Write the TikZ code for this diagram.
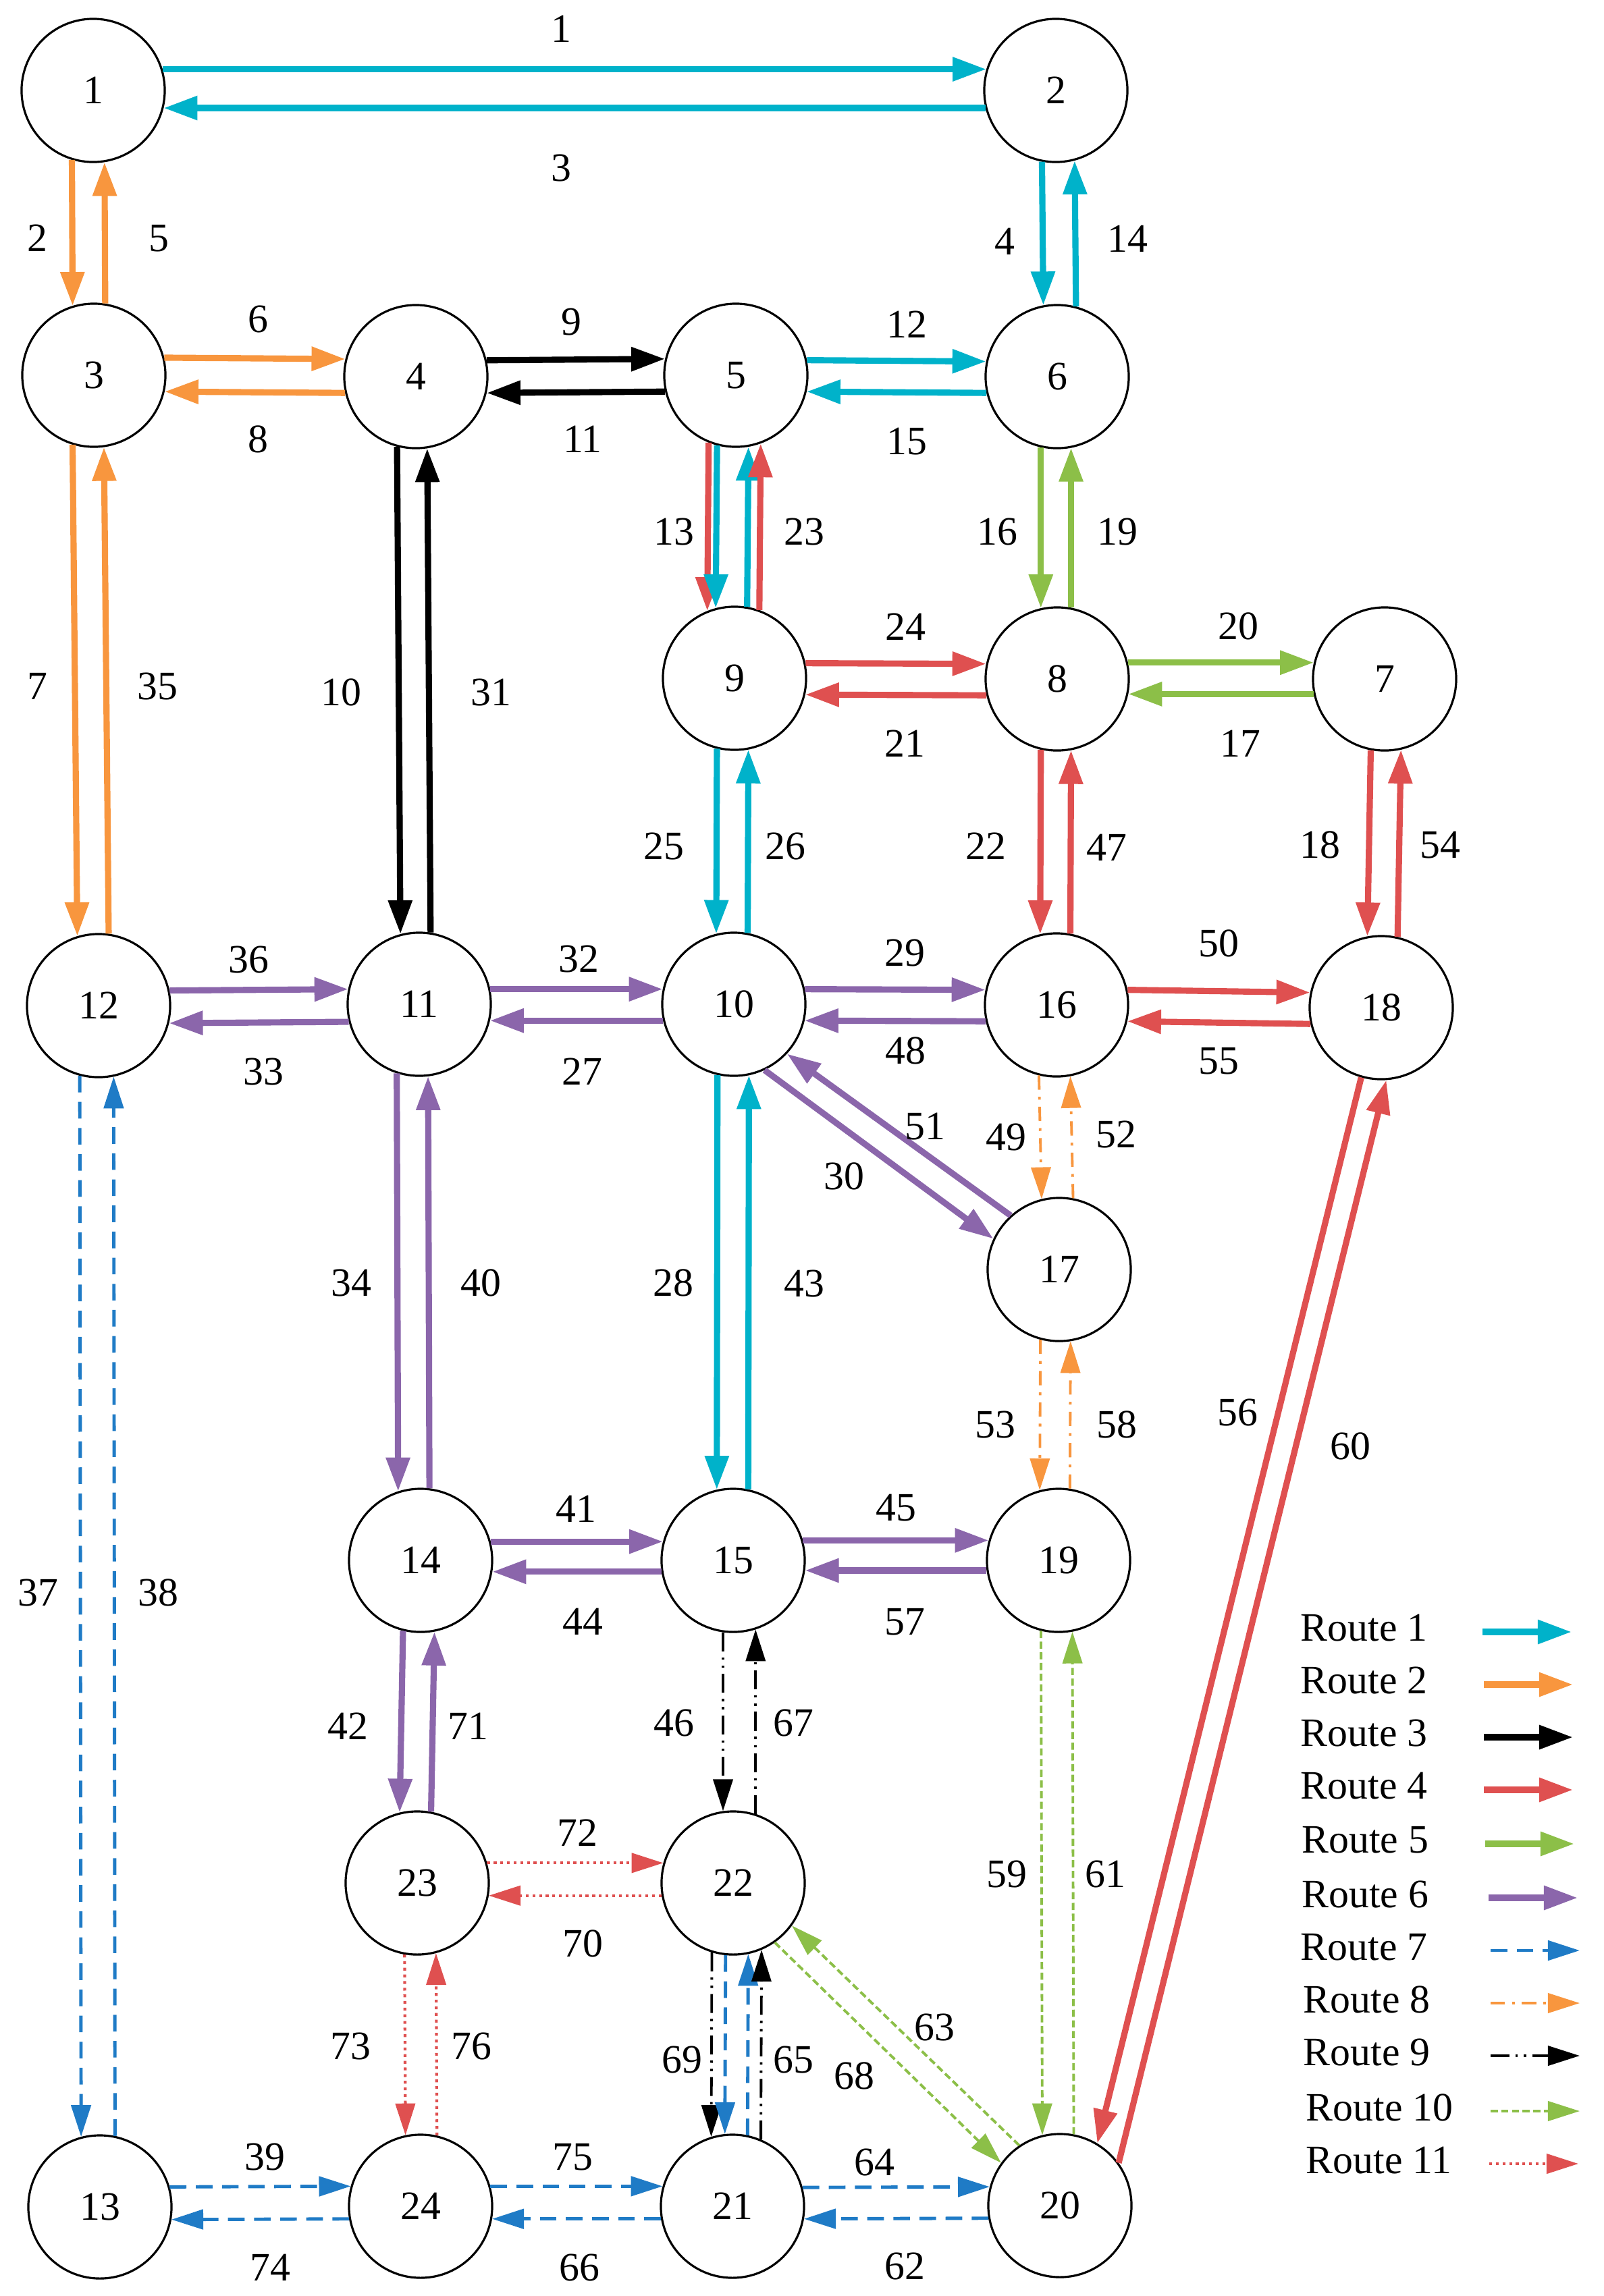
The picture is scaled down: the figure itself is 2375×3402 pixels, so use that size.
\documentclass[tikz,border=0pt]{standalone}
\usepackage{fontspec}
\setmainfont{Liberation Serif}
\usetikzlibrary{arrows.meta}
\definecolor{cA}{HTML}{00B2CA}
\definecolor{cB}{HTML}{F8963E}
\definecolor{cD}{HTML}{DF5050}
\definecolor{cE}{HTML}{8CBF48}
\definecolor{cF}{HTML}{8B66AB}
\definecolor{cG}{HTML}{1F7BC6}
\newcommand\lblfont{\fontsize{17pt}{20pt}\selectfont}
\begin{document}
\begin{tikzpicture}[x=0.01cm,y=-0.01cm,
  nd/.style={circle,draw,line width=0.9pt,minimum size=2.12cm,inner sep=0pt,font=\lblfont},
  lb/.style={inner sep=0pt,font=\lblfont},
  solidr/.style={line width=2.6pt,-{Triangle[length=0.5cm,width=0.34cm]}},
  dashr/.style={line width=1.1pt,-{Triangle[length=0.47cm,width=0.29cm]}},
  r1/.style={solidr,color=cA},
  r2/.style={solidr,color=cB},
  r3/.style={solidr,color=black},
  r4/.style={solidr,color=cD},
  r5/.style={solidr,color=cE},
  r6/.style={solidr,color=cF},
  r7/.style={dashr,color=cG,line width=1.4pt,dash pattern=on 7pt off 4pt},
  r8/.style={dashr,color=cB,dash pattern=on 6pt off 3pt on 1.2pt off 3pt},
  r9/.style={dashr,color=black,dash pattern=on 8pt off 2.5pt on 1pt off 2.5pt on 1pt off 2.5pt},
  r10/.style={dashr,color=cE,dash pattern=on 3pt off 1.5pt},
  r11/.style={dashr,color=cD,line width=1.2pt,dash pattern=on 1.2pt off 1.6pt}]
\useasboundingbox (0,0) rectangle (2375,3402);
\fill[white] (0,0) rectangle (2375,3402);
% nodes
\node[nd] (n1) at (138,134) {1};
\node[nd] (n2) at (1564,134) {2};
\node[nd] (n3) at (139,556) {3};
\node[nd] (n4) at (616,558) {4};
\node[nd] (n5) at (1090,556) {5};
\node[nd] (n6) at (1566,558) {6};
\node[nd] (n9) at (1088,1005) {9};
\node[nd] (n8) at (1566,1006) {8};
\node[nd] (n7) at (2051,1006) {7};
\node[nd] (n12) at (146,1490) {12};
\node[nd] (n11) at (621,1488) {11};
\node[nd] (n10) at (1087,1488) {10};
\node[nd] (n16) at (1565,1489) {16};
\node[nd] (n18) at (2046,1493) {18};
\node[nd] (n17) at (1569,1881) {17};
\node[nd] (n14) at (623,2312) {14};
\node[nd] (n15) at (1086,2312) {15};
\node[nd] (n19) at (1568,2312) {19};
\node[nd] (n23) at (618,2790) {23};
\node[nd] (n22) at (1086,2790) {22};
\node[nd] (n13) at (148,3270) {13};
\node[nd] (n24) at (623,3269) {24};
\node[nd] (n21) at (1085,3269) {21};
\node[nd] (n20) at (1570,3268) {20};
% horizontal pairs
\draw[r1] (n1.17) -- (n2.163);
\draw[r1] (n2.194) -- (n1.346);
\draw[r2] (n3.14) -- (n4.166);
\draw[r2] (n4.193) -- (n3.347);
\draw[r3] (n4.13) -- (n5.167);
\draw[r3] (n5.193) -- (n4.347);
\draw[r1] (n5.12) -- (n6.168);
\draw[r1] (n6.193) -- (n5.347);
\draw[r4] (n9.12) -- (n8.168);
\draw[r4] (n8.193) -- (n9.347);
\draw[r5] (n8.13) -- (n7.167);
\draw[r5] (n7.192) -- (n8.348);
\draw[r6] (n12.12) -- (n11.168);
\draw[r6] (n11.194) -- (n12.346);
\draw[r6] (n11.12) -- (n10.168);
\draw[r6] (n10.193) -- (n11.347);
\draw[r6] (n10.12) -- (n16.168);
\draw[r6] (n16.193) -- (n10.347);
\draw[r4] (n16.12) -- (n18.168);
\draw[r4] (n18.193) -- (n16.347);
\draw[r6] (n14.15) -- (n15.165);
\draw[r6] (n15.189) -- (n14.351);
\draw[r6] (n15.16) -- (n19.164);
\draw[r6] (n19.188) -- (n15.352);
\draw[r11] (n23.16) -- (n22.164);
\draw[r11] (n22.190) -- (n23.350);
\draw[r7] (n13.16) -- (n24.164);
\draw[r7] (n24.190) -- (n13.350);
\draw[r7] (n24.16) -- (n21.164);
\draw[r7] (n21.190) -- (n24.350);
\draw[r7] (n21.15) -- (n20.165);
\draw[r7] (n20.190) -- (n21.350);
% vertical pairs
\draw[r2] (n1.253) -- (n3.107);
\draw[r2] (n3.81) -- (n1.279);
\draw[r1] (n2.259) -- (n6.101);
\draw[r1] (n6.75) -- (n2.285);
\draw[r2] (n3.253) -- (n12.107);
\draw[r2] (n12.82) -- (n3.278);
\draw[r3] (n4.255) -- (n11.105);
\draw[r3] (n11.81) -- (n4.279);
\draw[r4] (n5.248) -- (n9.112);
\draw[r1] (n5.255) -- (n9.105);
\draw[r1] (n9.80) -- (n5.280);
\draw[r4] (n9.70) -- (n5.290);
\draw[r5] (n6.257) -- (n8.103);
\draw[r5] (n8.79) -- (n6.281);
\draw[r1] (n9.256) -- (n10.104);
\draw[r1] (n10.79) -- (n9.281);
\draw[r4] (n8.257) -- (n16.103);
\draw[r4] (n16.79) -- (n8.281);
\draw[r4] (n7.259) -- (n18.101);
\draw[r4] (n18.77) -- (n7.283);
\draw[r7] (n12.255) -- (n13.105);
\draw[r7] (n13.78) -- (n12.282);
\draw[r6] (n11.252) -- (n14.108);
\draw[r6] (n14.83) -- (n11.277);
\draw[r1] (n10.257) -- (n15.103);
\draw[r1] (n15.78) -- (n10.282);
\draw[r8] (n16.256) -- (n17.104);
\draw[r8] (n17.79) -- (n16.281);
\draw[r8] (n17.255) -- (n19.105);
\draw[r8] (n19.81) -- (n17.279);
\draw[r6] (n14.256) -- (n23.104);
\draw[r6] (n23.79) -- (n14.281);
\draw[r9] (n15.262) -- (n22.98);
\draw[r9] (n22.72) -- (n15.288);
\draw[r10] (n19.256) -- (n20.104);
\draw[r10] (n20.79) -- (n19.281);
\draw[r11] (n23.260) -- (n24.102);
\draw[r11] (n24.77) -- (n23.285);
\draw[r9] (n22.253) -- (n21.107);
\draw[r7] (n22.264) -- (n21.96);
\draw[r7] (n21.78) -- (n22.282);
\draw[r9] (n21.67) -- (n22.293);
% diagonals
\draw[r6] (n10.295) -- (n17.155);
\draw[r6] (n17.132) -- (n10.317);
\draw[r4] (n18.254) -- (n20.59);
\draw[r4] (n20.36) -- (n18.274);
\draw[r10] (n22.305) -- (n20.144);
\draw[r10] (n20.124) -- (n22.324);
% edge labels
\node[lb] (e1) at (831,43) {1};
\node[lb] (e3) at (831,249) {3};
\node[lb] (e2) at (55,353) {2};
\node[lb] (e5) at (235,353) {5};
\node[lb] (e4) at (1488,358) {4};
\node[lb] (e14) at (1670,354) {14};
\node[lb] (e6) at (382,473) {6};
\node[lb] (e8) at (382,651) {8};
\node[lb] (e9) at (846,477) {9};
\node[lb] (e11) at (863,651) {11};
\node[lb] (e12) at (1343,481) {12};
\node[lb] (e15) at (1343,654) {15};
\node[lb] (e13) at (998,788) {13};
\node[lb] (e23) at (1191,788) {23};
\node[lb] (e16) at (1477,788) {16};
\node[lb] (e19) at (1655,788) {19};
\node[lb] (e24) at (1341,929) {24};
\node[lb] (e21) at (1340,1102) {21};
\node[lb] (e20) at (1834,928) {20};
\node[lb] (e17) at (1837,1102) {17};
\node[lb] (e7) at (55,1017) {7};
\node[lb] (e35) at (233,1017) {35};
\node[lb] (e10) at (505,1026) {10};
\node[lb] (e31) at (727,1026) {31};
\node[lb] (e25) at (983,1254) {25};
\node[lb] (e26) at (1163,1254) {26};
\node[lb] (e22) at (1460,1254) {22};
\node[lb] (e47) at (1639,1256) {47};
\node[lb] (e18) at (1955,1252) {18};
\node[lb] (e54) at (2133,1252) {54};
\node[lb] (e36) at (368,1422) {36};
\node[lb] (e33) at (390,1588) {33};
\node[lb] (e32) at (857,1421) {32};
\node[lb] (e27) at (862,1588) {27};
\node[lb] (e29) at (1340,1412) {29};
\node[lb] (e48) at (1341,1557) {48};
\node[lb] (e50) at (1805,1398) {50};
\node[lb] (e55) at (1805,1572) {55};
\node[lb] (e49) at (1490,1685) {49};
\node[lb] (e52) at (1653,1681) {52};
\node[lb] (e51) at (1370,1669) {51};
\node[lb] (e30) at (1250,1743) {30};
\node[lb] (e34) at (520,1901) {34};
\node[lb] (e40) at (712,1901) {40};
\node[lb] (e28) at (997,1901) {28};
\node[lb] (e43) at (1191,1902) {43};
\node[lb] (e56) at (1833,2093) {56};
\node[lb] (e60) at (2000,2143) {60};
\node[lb] (e53) at (1474,2111) {53};
\node[lb] (e58) at (1654,2111) {58};
\node[lb] (e41) at (853,2236) {41};
\node[lb] (e44) at (863,2403) {44};
\node[lb] (e45) at (1327,2234) {45};
\node[lb] (e57) at (1340,2403) {57};
\node[lb] (e37) at (56,2360) {37};
\node[lb] (e38) at (234,2360) {38};
\node[lb] (e42) at (515,2558) {42};
\node[lb] (e71) at (693,2558) {71};
\node[lb] (e46) at (998,2553) {46};
\node[lb] (e67) at (1175,2553) {67};
\node[lb] (e72) at (855,2716) {72};
\node[lb] (e70) at (863,2880) {70};
\node[lb] (e59) at (1491,2777) {59};
\node[lb] (e61) at (1637,2777) {61};
\node[lb] (e73) at (519,3032) {73};
\node[lb] (e76) at (698,3032) {76};
\node[lb] (e69) at (1010,3052) {69};
\node[lb] (e65) at (1175,3052) {65};
\node[lb] (e63) at (1384,3004) {63};
\node[lb] (e68) at (1265,3076) {68};
\node[lb] (e39) at (392,3196) {39};
\node[lb] (e75) at (848,3196) {75};
\node[lb] (e64) at (1295,3204) {64};
\node[lb] (e74) at (400,3360) {74};
\node[lb] (e66) at (858,3360) {66};
\node[lb] (e62) at (1340,3358) {62};
% legend
\node[lb,anchor=west] (t1) at (1926,2412) {Route 1};
\node[lb,anchor=west] (t2) at (1926,2490) {Route 2};
\node[lb,anchor=west] (t3) at (1926,2568) {Route 3};
\node[lb,anchor=west] (t4) at (1926,2646) {Route 4};
\node[lb,anchor=west] (t5) at (1928,2726) {Route 5};
\node[lb,anchor=west] (t6) at (1928,2807) {Route 6};
\node[lb,anchor=west] (t7) at (1926,2885) {Route 7};
\node[lb,anchor=west] (t8) at (1930,2963) {Route 8};
\node[lb,anchor=west] (t9) at (1930,3041) {Route 9};
\node[lb,anchor=west] (t10) at (1934,3123) {Route 10};
\node[lb,anchor=west] (t11) at (1934,3201) {Route 11};
\coordinate (a1) at (2196,2418); \coordinate (b1) at (2328,2418);
\coordinate (a2) at (2198,2496); \coordinate (b2) at (2330,2496);
\coordinate (a3) at (2198,2574); \coordinate (b3) at (2330,2574);
\coordinate (a4) at (2198,2652); \coordinate (b4) at (2330,2652);
\coordinate (a5) at (2200,2732); \coordinate (b5) at (2332,2732);
\coordinate (a6) at (2205,2812); \coordinate (b6) at (2337,2812);
\coordinate (a7) at (2208,2890); \coordinate (b7) at (2340,2890);
\coordinate (a8) at (2208,2968); \coordinate (b8) at (2340,2968);
\coordinate (a9) at (2208,3046); \coordinate (b9) at (2340,3046);
\coordinate (a10) at (2208,3128); \coordinate (b10) at (2340,3128);
\coordinate (a11) at (2206,3206); \coordinate (b11) at (2338,3206);
\draw[r1] (a1) -- (b1);
\draw[r2] (a2) -- (b2);
\draw[r3] (a3) -- (b3);
\draw[r4] (a4) -- (b4);
\draw[r5] (a5) -- (b5);
\draw[r6] (a6) -- (b6);
\draw[r7] (a7) -- (b7);
\draw[r8] (a8) -- (b8);
\draw[r9] (a9) -- (b9);
\draw[r10] (a10) -- (b10);
\draw[r11] (a11) -- (b11);
\end{tikzpicture}
\end{document}
